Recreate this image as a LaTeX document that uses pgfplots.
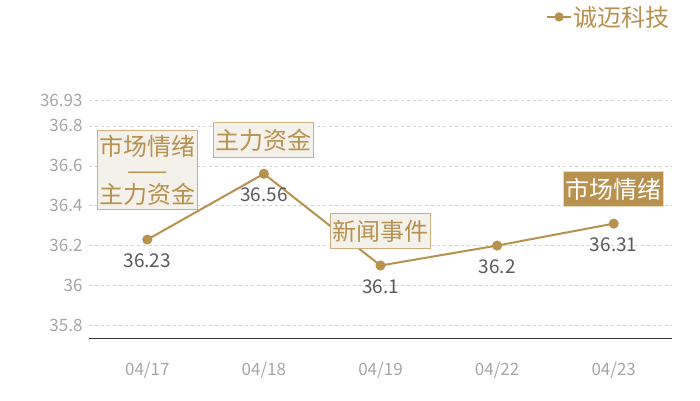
\documentclass[border=0pt]{standalone}
\usepackage{fontspec}
\setmainfont{Noto Sans CJK SC}
\usepackage{pgfplots}
\usepackage{pgfplotstable}
\pgfplotsset{compat=1.18}

\definecolor{tanc}{HTML}{B8914F}
\definecolor{boxfill}{HTML}{F4F0EA}
\definecolor{boxline}{HTML}{CDAE7C}
\definecolor{boxlight}{HTML}{E6D8BE}
\definecolor{tickgray}{HTML}{A6A6A6}
\definecolor{valgray}{HTML}{595959}
\definecolor{gridgray}{HTML}{D4D4D4}

% price per day
\pgfplotstableread{
x y
0 36.23
1 36.56
2 36.1
3 36.2
4 36.31
}\stockdata

\begin{document}
\begin{tikzpicture}
\path[use as bounding box] (0pt,0pt) rectangle (700pt,400pt);
\begin{axis}[
    at={(89pt,62pt)}, anchor=south west,
    scale only axis, width=583pt, height=238pt,
    xmin=-0.5, xmax=4.5,
    ymin=35.7365, ymax=36.93,
    xtick={0,...,4},
    xticklabels={04/17,04/18,04/19,04/22,04/23},
    ytick={35.8,36,36.2,36.4,36.6,36.8,36.93},
    yticklabels={35.8,36,36.2,36.4,36.6,36.8,36.93},
    /pgf/number format/assume math mode=true,
    ymajorgrids=true,
    grid style={gridgray, dashed, line width=0.6pt},
    axis x line*=bottom,
    axis y line*=left,
    y axis line style={draw=none},
    x axis line style={draw=black!80, line width=1pt, -},
    major tick length=0pt,
    yticklabel style={font=\fontsize{17}{17}\selectfont, text=tickgray, xshift=-3pt},
    xticklabel style={font=\fontsize{17}{17}\selectfont, text=tickgray, yshift=-20pt},
    clip=false,
    legend style={at={(1.005,1.349)}, anchor=east, draw=none, fill=none,
        font=\fontsize{24}{24}\selectfont, text=tanc},
    legend image code/.code={
        \draw[mark repeat=2, mark phase=2, #1, line width=1.2pt]
            plot coordinates {(0pt,0pt) (12pt,0pt) (24pt,0pt)};
    },
]

\addplot[tanc, line width=2pt, mark=*, mark size=4pt,
    mark options={fill=tanc, draw=tanc},
    nodes near coords={\pgfmathprintnumber{\pgfplotspointmeta}},
    point meta=y,
    every node near coord/.append style={anchor=center, yshift=-21pt,
        text=valgray, font=\fontsize{19}{19}\selectfont},
] table[x=x, y=y] {\stockdata};
\addlegendentry{诚迈科技}

% event labels above the points
\tikzset{evt/.style={anchor=south, fill=boxfill, draw=boxline, line width=1pt,
    text=tanc, font=\fontsize{24}{24}\selectfont, inner xsep=2pt, inner ysep=6pt,
    align=center}}
\node[evt, inner ysep=4pt] at (axis cs:0,36.23) [yshift=30pt] {市场情绪\\——\\主力资金};
\node[evt] at (axis cs:1,36.56) [yshift=16pt] {主力资金};
\node[evt] at (axis cs:2,36.1) [yshift=17pt] {新闻事件};
\node[evt, fill=tanc, draw=boxlight, text=white] at (axis cs:4,36.31) [yshift=17pt] {市场情绪};

\end{axis}
\end{tikzpicture}
\end{document}
